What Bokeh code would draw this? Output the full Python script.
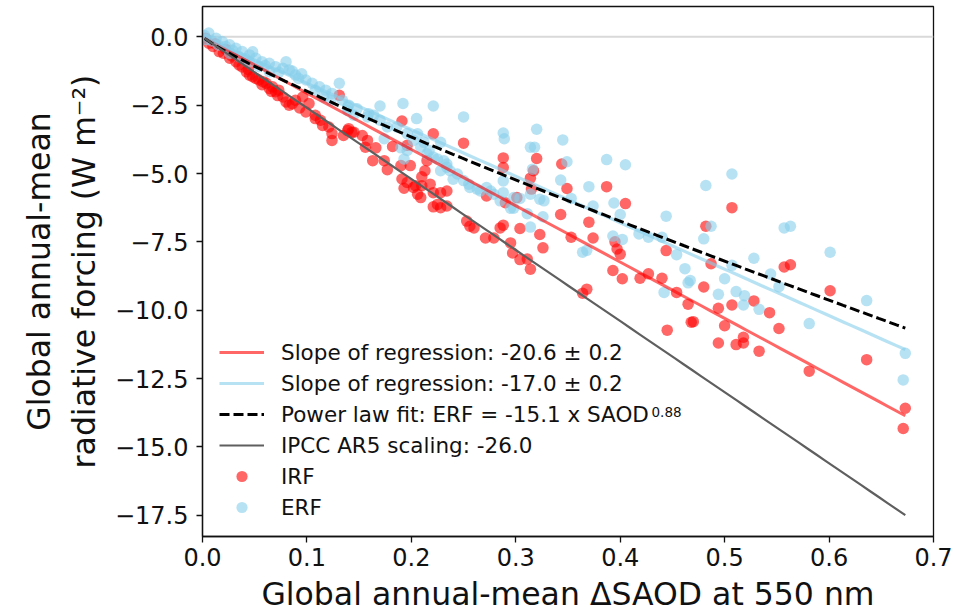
import numpy as np
from bokeh.plotting import figure
from bokeh.models import (Range1d, FixedTicker, CustomJSTickFormatter, Legend,
                          LegendItem, Label, Span, LinearAxis)
from bokeh.embed import file_html
from bokeh.resources import INLINE

# ---------------- data ----------------
irf_saod = [
    0.003, 0.006, 0.010, 0.012, 0.016, 0.020, 0.022, 0.026, 0.028, 0.032,
    0.035, 0.038, 0.042, 0.044, 0.045, 0.048, 0.051, 0.054, 0.057, 0.058,
    0.061, 0.064, 0.066, 0.067, 0.070, 0.072, 0.073, 0.077, 0.080, 0.083,
    0.086, 0.089, 0.093, 0.096, 0.099, 0.102, 0.108, 0.108, 0.113, 0.115,
    0.121, 0.124, 0.124, 0.131, 0.135, 0.139, 0.140, 0.143, 0.145, 0.153,
    0.156, 0.158, 0.163, 0.166, 0.174, 0.177, 0.182, 0.190, 0.191, 0.191,
    0.193, 0.196, 0.196, 0.199, 0.202, 0.204, 0.206, 0.209, 0.210, 0.210,
    0.213, 0.215, 0.218, 0.221, 0.221, 0.221, 0.225, 0.228, 0.228, 0.234,
    0.234, 0.250, 0.253, 0.256, 0.260, 0.271, 0.272, 0.279, 0.285, 0.288,
    0.288, 0.288, 0.290, 0.295, 0.297, 0.301, 0.304, 0.304, 0.311, 0.314,
    0.314, 0.315, 0.317, 0.320, 0.323, 0.326, 0.343, 0.344, 0.349, 0.353,
    0.364, 0.368, 0.370, 0.374, 0.387, 0.393, 0.395, 0.397, 0.400, 0.402,
    0.405, 0.419, 0.427, 0.440, 0.444, 0.445, 0.454, 0.465, 0.468, 0.470,
    0.480, 0.482, 0.487, 0.494, 0.494, 0.500, 0.507, 0.507, 0.511, 0.518,
    0.518, 0.528, 0.533, 0.543, 0.552, 0.557, 0.563, 0.581, 0.601, 0.636,
    0.671, 0.673,
]
irf_forcing = [
    -0.05, -0.23, -0.35, -0.25, -0.54, -0.60, -0.45, -0.78, -0.70, -0.91,
    -1.03, -1.10, -1.28, -1.20, -1.40, -1.46, -1.52, -1.58, -1.75, -1.64,
    -1.70, -1.89, -2.00, -1.83, -2.01, -2.15, -1.95, -2.20, -2.38, -2.50,
    -2.45, -2.32, -2.60, -2.20, -2.75, -2.44, -2.99, -2.87, -3.05, -3.24,
    -3.30, -3.54, -3.79, -2.14, -3.61, -3.43, -3.36, -3.49, -3.49, -3.61,
    -4.04, -3.79, -4.53, -4.06, -4.53, -4.86, -4.01, -4.71, -3.08, -5.20,
    -5.54, -3.97, -5.33, -4.71, -5.51, -5.45, -5.76, -5.88, -5.12, -5.45,
    -4.90, -4.53, -5.39, -3.55, -5.70, -6.22, -6.13, -5.70, -6.25, -5.64,
    -6.19, -3.89, -6.74, -6.93, -6.99, -7.36, -5.82, -7.36, -6.99, -4.43,
    -4.78, -6.89, -6.07, -7.54, -7.91, -5.88, -7.01, -8.15, -8.13, -5.17,
    -8.50, -5.57, -4.90, -4.45, -7.23, -7.72, -6.50, -4.65, -5.55, -7.33,
    -9.38, -9.23, -6.78, -7.36, -5.48, -8.55, -7.50, -7.76, -7.95, -8.85,
    -6.10, -8.83, -8.67, -8.83, -7.82, -10.73, -9.35, -9.78, -10.44, -10.42,
    -9.15, -6.93, -8.30, -9.93, -11.20, -10.57, -6.25, -9.81, -11.26, -10.99,
    -11.20, -9.66, -11.50, -10.09, -10.67, -8.42, -8.34, -12.23, -9.29, -11.81,
    -14.33, -13.59,
]
erf_saod = [
    0.002, 0.004, 0.006, 0.009, 0.013, 0.015, 0.019, 0.022, 0.026, 0.026,
    0.029, 0.032, 0.035, 0.038, 0.041, 0.045, 0.045, 0.048, 0.051, 0.054,
    0.057, 0.060, 0.064, 0.064, 0.070, 0.073, 0.077, 0.080, 0.083, 0.086,
    0.089, 0.092, 0.095, 0.099, 0.105, 0.108, 0.112, 0.116, 0.118, 0.123,
    0.124, 0.131, 0.134, 0.139, 0.139, 0.140, 0.145, 0.148, 0.158, 0.159,
    0.164, 0.170, 0.170, 0.174, 0.177, 0.186, 0.190, 0.192, 0.193, 0.196,
    0.196, 0.202, 0.205, 0.206, 0.209, 0.212, 0.215, 0.217, 0.221, 0.221,
    0.225, 0.228, 0.228, 0.231, 0.234, 0.234, 0.237, 0.240, 0.244, 0.250,
    0.250, 0.255, 0.256, 0.263, 0.266, 0.272, 0.276, 0.279, 0.285, 0.288,
    0.288, 0.288, 0.289, 0.295, 0.298, 0.298, 0.304, 0.311, 0.314, 0.314,
    0.314, 0.316, 0.318, 0.320, 0.323, 0.326, 0.327, 0.343, 0.345, 0.349,
    0.353, 0.364, 0.368, 0.370, 0.374, 0.387, 0.393, 0.394, 0.400, 0.402,
    0.405, 0.418, 0.427, 0.440, 0.442, 0.444, 0.454, 0.462, 0.465, 0.467,
    0.480, 0.482, 0.487, 0.494, 0.500, 0.507, 0.507, 0.511, 0.518, 0.519,
    0.528, 0.533, 0.544, 0.552, 0.557, 0.563, 0.581, 0.601, 0.636, 0.671,
    0.673,
]
erf_forcing = [
    0.05, -0.10, 0.14, -0.15, -0.05, -0.30, -0.17, -0.35, -0.29, -0.60,
    -0.50, -0.42, -0.72, -0.54, -0.80, -0.66, -0.91, -0.55, -0.78, -1.09,
    -0.91, -1.05, -0.97, -1.28, -1.09, -1.30, -1.15, -0.91, -1.21, -1.25,
    -1.40, -1.52, -1.35, -1.58, -1.70, -1.95, -1.83, -2.20, -1.95, -2.32,
    -2.07, -1.70, -2.32, -2.57, -2.69, -2.50, -2.87, -2.63, -2.93, -2.81,
    -2.87, -2.53, -3.05, -3.73, -3.30, -3.30, -4.06, -2.44, -4.47, -3.54,
    -4.16, -3.79, -2.99, -3.55, -4.04, -3.86, -4.28, -4.16, -2.53, -4.40,
    -4.47, -3.86, -4.90, -4.53, -4.65, -4.77, -4.90, -5.21, -5.02, -2.93,
    -5.26, -5.39, -5.51, -5.57, -5.64, -5.51, -5.64, -5.76, -6.00, -3.52,
    -5.27, -5.70, -3.73, -6.27, -5.88, -6.27, -5.91, -6.47, -4.04, -5.76,
    -6.96, -4.84, -4.04, -3.38, -5.94, -6.58, -6.00, -5.24, -3.77, -4.57,
    -5.91, -7.88, -7.81, -5.48, -6.19, -4.49, -7.29, -6.08, -6.50, -7.41,
    -4.68, -7.21, -7.33, -7.33, -9.35, -6.56, -7.97, -8.48, -9.00, -8.91,
    -7.39, -5.44, -6.93, -9.42, -8.85, -5.02, -8.36, -9.32, -9.81, -9.47,
    -8.10, -9.97, -8.68, -9.14, -6.99, -6.93, -10.49, -7.88, -9.65, -12.55,
    -11.58,
]

irf_slope = -20.6
erf_slope = -17.0
power_coef = -15.1
power_exp = 0.88
ipcc_slope = -26.0

x_ticks = [0.0, 0.1, 0.2, 0.3, 0.4, 0.5, 0.6, 0.7]
y_ticks = [-17.5, -15.0, -12.5, -10.0, -7.5, -5.0, -2.5, 0.0]

legend_labels = [
    "Slope of regression: -20.6 \u00b1 0.2",
    "Slope of regression: -17.0 \u00b1 0.2",
    "Power law fit: ERF = -15.1 x SAOD",
    "IPCC AR5 scaling: -26.0",
    "IRF",
    "ERF",
]
power_sup = "0.88"
x_title = "Global annual-mean \u0394SAOD at 550 nm"
y_title_1 = "Global annual-mean"
y_title_2 = "radiative forcing (W m\u207b\u00b2)"

# ---------------- figure ----------------
FONT = "DejaVu Sans"
INK = "#111111"
RED = "#ff0000"
BLUE = "#87ceeb"
TITLE_SIZE = "31.5px"

p = figure(width=953, height=614, output_backend="svg", toolbar_location=None,
           x_range=Range1d(0.0, 0.7), y_range=Range1d(-18.28, 1.11),
           min_border_left=202, min_border_right=20, min_border_top=6,
           min_border_bottom=77)
p.background_fill_color = "white"
p.border_fill_color = "white"
p.outline_line_color = INK
p.outline_line_width = 1.3
p.xgrid.visible = False
p.ygrid.visible = False

zero = Span(location=0, dimension="width", line_color="#d9d9d9", line_width=2,
            level="underlay")
p.add_layout(zero)

r_irf = p.scatter(irf_saod, irf_forcing, size=11.5, fill_color=RED, fill_alpha=0.6,
                  line_color=None)
r_erf = p.scatter(erf_saod, erf_forcing, size=11.5, fill_color=BLUE, fill_alpha=0.6,
                  line_color=None)

all_x = np.array(irf_saod + erf_saod)
fit_x = np.linspace(all_x.min(), all_x.max(), 80)

r_l1 = p.line(fit_x, irf_slope * fit_x, line_color=RED, line_alpha=0.6, line_width=3)
r_l2 = p.line(fit_x, erf_slope * fit_x, line_color=BLUE, line_alpha=0.6, line_width=3.2)
r_l3 = p.line(fit_x, power_coef * fit_x ** power_exp, line_color="black",
              line_width=3, line_dash="10 4")
r_l4 = p.line(fit_x, ipcc_slope * fit_x, line_color="#5f5f5f", line_width=2.2)

# axes
for ax in (p.xaxis[0], p.yaxis[0]):
    ax.axis_line_color = INK
    ax.axis_line_width = 1.3
    ax.major_tick_line_color = INK
    ax.major_tick_line_width = 1.3
    ax.major_tick_out = 6
    ax.major_tick_in = 0
    ax.minor_tick_line_color = None
    ax.major_label_text_font = FONT
    ax.major_label_text_font_size = "24px"
    ax.major_label_text_color = INK
    ax.axis_label_text_font = FONT
    ax.axis_label_text_font_size = TITLE_SIZE
    ax.axis_label_text_font_style = "normal"
    ax.axis_label_text_color = INK

p.xaxis.ticker = FixedTicker(ticks=x_ticks)
p.yaxis.ticker = FixedTicker(ticks=y_ticks)
p.xaxis.formatter = CustomJSTickFormatter(code="return tick.toFixed(1);")
p.yaxis.formatter = CustomJSTickFormatter(
    code="return (tick < 0 ? '\u2212' : '') + Math.abs(tick).toFixed(1);")
p.xaxis.major_label_standoff = 5
p.yaxis.major_label_standoff = 8

p.xaxis.axis_label = x_title
p.xaxis.axis_label_standoff = 7
p.yaxis.axis_label = y_title_2
p.yaxis.axis_label_standoff = 10

# second (outer) y title line, carried by a tick-less axis
outer = LinearAxis(axis_label=y_title_1, ticker=FixedTicker(ticks=[]),
                   major_tick_out=0, major_tick_in=0, major_label_standoff=0,
                   axis_line_color=None, major_tick_line_color=None,
                   minor_tick_line_color=None, axis_label_standoff=6,
                   axis_label_text_font=FONT, axis_label_text_font_size=TITLE_SIZE,
                   axis_label_text_font_style="normal", axis_label_text_color=INK)
p.add_layout(outer, "left")

# legend
items = [
    LegendItem(label=legend_labels[0], renderers=[r_l1]),
    LegendItem(label=legend_labels[1], renderers=[r_l2]),
    LegendItem(label=legend_labels[2], renderers=[r_l3]),
    LegendItem(label=legend_labels[3], renderers=[r_l4]),
    LegendItem(label=legend_labels[4], renderers=[r_irf]),
    LegendItem(label=legend_labels[5], renderers=[r_erf]),
]
legend = Legend(items=items, location=(17, 15), padding=0, margin=0, spacing=3,
                glyph_width=45, glyph_height=28, label_height=28, label_standoff=17,
                label_text_font=FONT, label_text_font_size="21.5px",
                label_text_color=INK,
                border_line_color=None, background_fill_alpha=0)
p.add_layout(legend)

p.add_layout(Label(x=449, y=125, x_units="screen", y_units="screen", text=power_sup,
                   text_font=FONT, text_font_size="13.5px", text_color=INK,
                   text_baseline="alphabetic"))

open("out.html", "w").write(file_html(p, INLINE))
